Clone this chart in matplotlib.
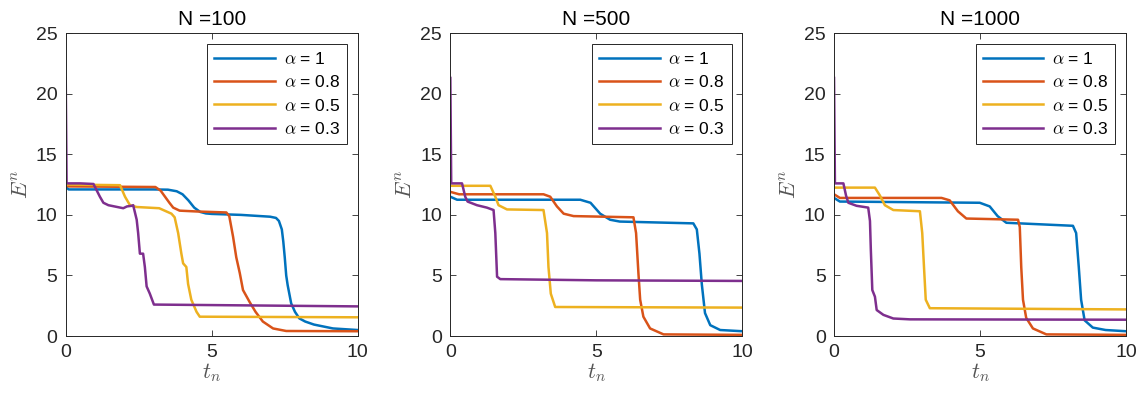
import numpy as np
import matplotlib
matplotlib.use("Agg")
import matplotlib.pyplot as plt

plt.rcParams['font.family'] = ['Liberation Sans', 'DejaVu Sans']
plt.rcParams['mathtext.fontset'] = 'cm'

titles = ["N =100", "N =500", "N =1000"]
labels = [r"$\alpha$ = 1", r"$\alpha$ = 0.8", r"$\alpha$ = 0.5", r"$\alpha$ = 0.3"]
colors = ["#0072BD", "#D95319", "#EDB120", "#7E2F8E"]

# N = 100
t100_a1 = [0, 0.1, 3.0, 3.5, 3.8, 4.0, 4.2, 4.4, 4.6, 4.8, 5.0, 6.0, 7.0, 7.2, 7.3, 7.4, 7.45, 7.5, 7.55, 7.6, 7.72, 7.85, 8.0, 8.2, 8.5, 9.15, 10]
E100_a1 = [12.3, 12.1, 12.1, 12.08, 11.95, 11.7, 11.2, 10.6, 10.25, 10.12, 10.08, 10.0, 9.85, 9.75, 9.5, 8.8, 7.8, 6.5, 5.0, 4.2, 2.7, 2.0, 1.46, 1.2, 0.95, 0.63, 0.5]
t100_a08 = [0, 0.1, 3.07, 3.25, 3.4, 3.55, 3.68, 3.9, 4.5, 5.5, 5.6, 5.73, 5.84, 5.96, 6.07, 6.3, 6.5, 6.75, 7.1, 7.55, 10]
E100_a08 = [12.45, 12.35, 12.3, 12.0, 11.5, 11.0, 10.6, 10.35, 10.28, 10.2, 9.9, 8.2, 6.5, 5.2, 3.8, 2.8, 2.0, 1.2, 0.63, 0.42, 0.4]
t100_a05 = [0, 0.1, 1.86, 2.03, 2.2, 2.43, 3.2, 3.62, 3.73, 3.85, 3.96, 4.02, 4.13, 4.19, 4.3, 4.48, 4.59, 10]
E100_a05 = [12.5, 12.5, 12.45, 11.5, 10.8, 10.65, 10.55, 10.1, 9.8, 8.5, 6.8, 6.0, 5.7, 4.3, 3.0, 2.0, 1.6, 1.55]
t100_a03 = [0, 0.03, 0.5, 0.95, 1.17, 1.29, 1.46, 1.97, 2.1, 2.26, 2.31, 2.43, 2.48, 2.54, 2.65, 2.71, 2.77, 2.88, 3.02, 10]
E100_a03 = [21.3, 12.6, 12.6, 12.55, 11.5, 11.0, 10.8, 10.55, 10.7, 10.75, 10.8, 9.6, 8.5, 6.8, 6.8, 5.7, 4.1, 3.5, 2.6, 2.45]

# N = 500
t500_a1 = [0, 0.23, 4.45, 4.8, 5.13, 5.47, 5.8, 8.32, 8.44, 8.53, 8.61, 8.72, 8.9, 9.24, 10]
E500_a1 = [11.5, 11.25, 11.25, 11.0, 10.1, 9.6, 9.45, 9.3, 8.8, 6.8, 4.3, 1.9, 0.9, 0.5, 0.4]
t500_a08 = [0, 0.3, 3.19, 3.42, 3.65, 3.88, 4.22, 6.27, 6.36, 6.44, 6.5, 6.61, 6.84, 7.3, 10]
E500_a08 = [11.9, 11.7, 11.7, 11.5, 10.7, 10.1, 9.9, 9.8, 8.5, 5.2, 3.0, 1.6, 0.63, 0.14, 0.1]
t500_a05 = [0, 1.37, 1.54, 1.65, 1.94, 3.19, 3.31, 3.36, 3.44, 3.59, 10]
E500_a05 = [12.4, 12.4, 11.5, 10.8, 10.45, 10.4, 8.5, 5.7, 3.5, 2.4, 2.35]
t500_a03 = [0, 0.03, 0.4, 0.51, 0.59, 0.91, 1.25, 1.48, 1.54, 1.6, 1.71, 5.0, 10]
E500_a03 = [21.3, 12.6, 12.6, 11.5, 11.1, 10.8, 10.6, 10.4, 8.5, 4.9, 4.7, 4.6, 4.55]

# N = 1000
t1000_a1 = [0, 0.2, 4.99, 5.33, 5.6, 5.9, 8.18, 8.29, 8.38, 8.46, 8.58, 8.86, 9.3, 10]
E1000_a1 = [11.4, 11.1, 11.0, 10.7, 9.9, 9.35, 9.1, 8.5, 5.7, 3.0, 1.3, 0.7, 0.5, 0.4]
t1000_a08 = [0, 0.2, 3.68, 3.96, 4.24, 4.53, 6.3, 6.36, 6.41, 6.47, 6.58, 6.81, 7.27, 10]
E1000_a08 = [11.7, 11.4, 11.4, 11.2, 10.3, 9.7, 9.6, 9.0, 5.7, 3.0, 1.5, 0.63, 0.14, 0.1]
t1000_a05 = [0, 1.4, 1.57, 1.74, 2.03, 2.94, 3.02, 3.08, 3.14, 3.28, 10]
E1000_a05 = [12.25, 12.25, 11.6, 10.8, 10.4, 10.3, 8.5, 5.7, 3.0, 2.3, 2.2]
t1000_a03 = [0, 0.03, 0.32, 0.41, 0.49, 0.77, 1.17, 1.23, 1.26, 1.31, 1.4, 1.46, 1.69, 2.03, 2.6, 10]
E1000_a03 = [21.3, 12.6, 12.6, 11.6, 11.0, 10.75, 10.6, 9.5, 7.1, 3.8, 3.25, 2.15, 1.75, 1.45, 1.38, 1.35]

times = [
    [t100_a1, t100_a08, t100_a05, t100_a03],
    [t500_a1, t500_a08, t500_a05, t500_a03],
    [t1000_a1, t1000_a08, t1000_a05, t1000_a03],
]
energies = [
    [E100_a1, E100_a08, E100_a05, E100_a03],
    [E500_a1, E500_a08, E500_a05, E500_a03],
    [E1000_a1, E1000_a08, E1000_a05, E1000_a03],
]

fig = plt.figure(figsize=(11.43, 3.94), dpi=100)
lefts = [0.0575, 0.394, 0.7297]
ink = "#262626"

for k in range(3):
    ax = fig.add_axes([lefts[k], 0.147, 0.2555, 0.769])
    for j in range(4):
        ax.plot(times[k][j], energies[k][j], color=colors[j], lw=1.8,
                label=labels[j], solid_joinstyle='round')
    ax.set_xlim(0, 10)
    ax.set_ylim(0, 25)
    ax.set_xticks([0, 5, 10])
    ax.set_yticks([0, 5, 10, 15, 20, 25])
    ax.tick_params(direction='in', top=True, right=True, length=4, width=0.6,
                   labelsize=14, colors=ink, pad=6)
    for sp in ax.spines.values():
        sp.set_color(ink)
        sp.set_linewidth(0.7)
    ax.set_title(titles[k], fontsize=15, color='black', pad=6)
    ax.set_xlabel(r"$t_n$", fontsize=16, color='#555555', labelpad=0)
    ax.set_ylabel(r"$E^n$", fontsize=16, color='#555555', labelpad=2)
    leg = ax.legend(loc='upper right', bbox_to_anchor=(0.963, 0.964), borderaxespad=0,
                    fontsize=12.5, handlelength=3.5, handletextpad=0.5,
                    labelspacing=0.42, borderpad=0.4, fancybox=False, framealpha=1)
    leg.get_frame().set_edgecolor(ink)
    leg.get_frame().set_linewidth(0.7)

fig.savefig("out.png", dpi=100)
